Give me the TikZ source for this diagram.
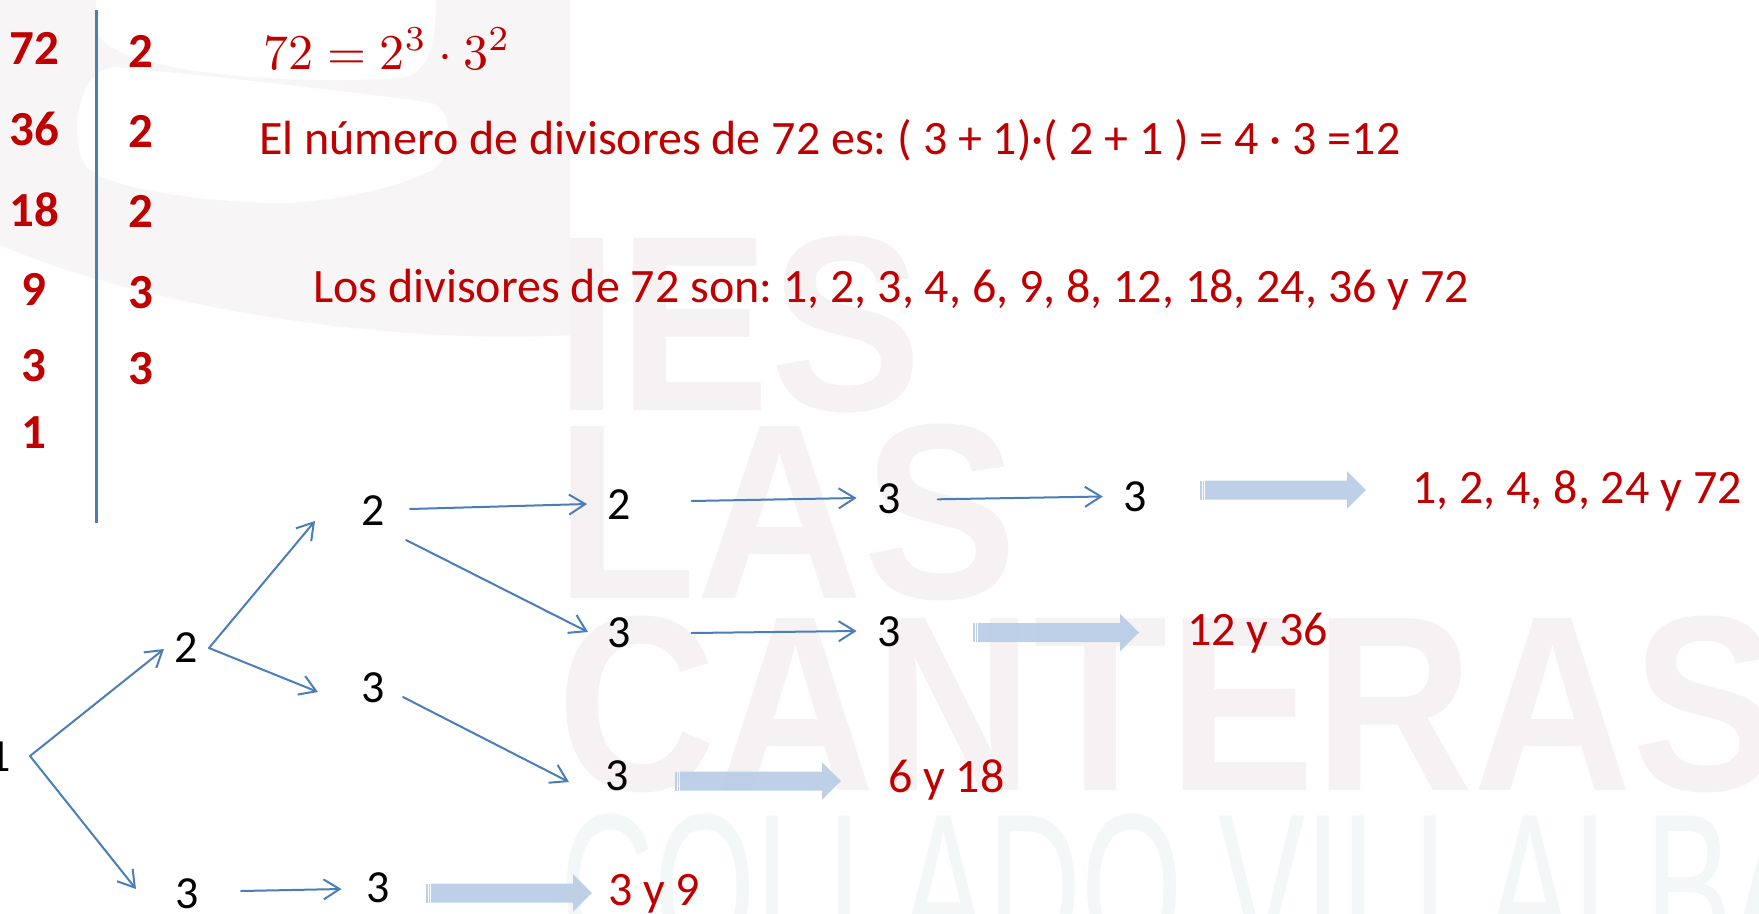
\documentclass[tikz,border=0pt]{standalone}
\usepackage{fontspec}
\setmainfont{Carlito}
\newfontfamily\wmbold{Liberation Sans}[BoldFont={* Bold}]
\newfontfamily\wmthin{Liberation Sans}
\usetikzlibrary{arrows.meta,calc}
\frenchspacing

\definecolor{numred}{HTML}{C00000}
\definecolor{linkblue}{HTML}{4A7EBB}
\definecolor{blockblue}{HTML}{B9CDE5}
\definecolor{wmpink}{HTML}{F6F2F3}
\definecolor{wmcyan}{HTML}{F3F7F7}
\definecolor{swoosh}{HTML}{F8F5F6}

\tikzset{
  lnum/.style={text=numred, font=\bfseries\fontsize{49}{49}\selectfont, inner sep=0pt, anchor=base},
  redtext/.style={text=numred, font=\fontsize{48}{56}\selectfont, inner sep=0pt, anchor=base west},
  dig/.style={text=black, font=\fontsize{46}{46}\selectfont, inner sep=0pt},
  link/.style={draw=linkblue, line width=2pt, line cap=round,
    -{Straight Barb[length=16pt,width=20pt,line width=2pt]}},
  wmark/.style={inner sep=0pt, anchor=base west},
  fatarrow/.pic={
    % two thin stripes, then the shaft and the head
    \fill[blockblue, fill opacity=0.92] (0,-9.5) rectangle (1.5,9.5);
    \fill[blockblue, fill opacity=0.92] (2.7,-9.5) rectangle (4.3,9.5);
    \fill[blockblue, fill opacity=0.92] (5,-9.5) -- (147,-9.5) -- (147,-18.8)
      -- (166,0) -- (147,18.8) -- (147,9.5) -- (5,9.5) -- cycle;
  }
}

\begin{document}
\begin{tikzpicture}[x=1pt,y=-1pt]
\useasboundingbox (0,0) rectangle (1759,913);
\clip (0,0) rectangle (1759,913);
\fill[white] (0,0) rectangle (1759,913);

% faint logo swoosh behind the factor table
\fill[swoosh] (0,0) -- (570,0) -- (570,335)
  .. controls (400,345) and (150,310) .. (0,245) -- cycle;
\fill[white] (96,0) -- (96,30) .. controls (110,75) and (300,85) .. (400,78)
  .. controls (430,75) and (436,40) .. (436,0) -- cycle;
\fill[white] (115,67) .. controls (250,80) and (380,95) .. (432,103)
  .. controls (455,110) and (455,165) .. (425,173)
  .. controls (380,195) and (300,205) .. (268,203)
  .. controls (180,200) and (100,185) .. (85,165)
  .. controls (70,140) and (75,70) .. (115,67) -- cycle;

% school watermark
\node[wmark, text=wmpink, font=\wmbold\bfseries\fontsize{250}{250}\selectfont] (wmies) at (555,410) {\scalebox{0.91}[1]{IES}};
\node[wmark, text=wmpink, font=\wmbold\bfseries\fontsize{250}{250}\selectfont] (wmlas) at (555,598) {\scalebox{0.925}[1]{LAS}};
\node[wmark, text=wmpink, font=\wmbold\bfseries\fontsize{250}{250}\selectfont] (wmcan) at (557,790) {\scalebox{0.88}[1]{CANTERAS}};
\node[wmark, text=wmcyan, font=\wmthin\fontsize{210}{210}\selectfont] (wmcol) at (560,960) {\scalebox{0.62}[1]{COLLADO VILLALBA}};

% prime factor table
\draw[draw=linkblue, line width=3pt] (96,10) -- (96,523);
\node[lnum] (n72) at (34,64) {72};
\node[lnum] (n36) at (34,145) {36};
\node[lnum] (n18) at (34,226) {18};
\node[lnum] (n9)  at (34,305) {9};
\node[lnum] (n3)  at (34,381) {3};
\node[lnum] (n1)  at (34,448) {1};
\node[lnum] (p1) at (141,67) {2};
\node[lnum] (p2) at (141,147) {2};
\node[lnum] (p3) at (141,227) {2};
\node[lnum] (p4) at (141,308) {3};
\node[lnum] (p5) at (141,384) {3};

% statements
\node[inner sep=0pt, anchor=base west, text=numred] (formula) at (263,69) {\scalebox{5.0}{$72=2^3\cdot 3^2$}};
\node[redtext] (count) at (259,154) {El número de divisores de 72 es: ( 3 + 1)·( 2 + 1 ) = 4 · 3 =12};
\node[redtext] (list) at (313,302) {Los divisores de 72 son: 1, 2, 3, 4, 6, 9, 8, 12, 18, 24, 36 y 72};

% tree of divisors
\node[dig] (r1)  at (-1,757) {1};
\node[dig] (a2)  at (186,648) {2};
\node[dig] (a3)  at (187,894) {3};
\node[dig] (b2)  at (373,511) {2};
\node[dig] (b3)  at (373,688) {3};
\node[dig] (b3b) at (378,888) {3};
\node[dig] (c2)  at (619,505) {2};
\node[dig] (c3)  at (619,633) {3};
\node[dig] (c3b) at (617,776) {3};
\node[dig] (d3)  at (889,499) {3};
\node[dig] (d3b) at (889,632) {3};
\node[dig] (e3)  at (1135,497) {3};

\draw[link] ($(r1)+(31,-1)$) -- ($(a2)+(-22,1)$);
\draw[link] ($(r1)+(31,-1)$) -- ($(a3)+(-51,-5)$);
\draw[link] ($(a2)+(23,0)$) -- ($(b2)+(-58,10)$);
\draw[link] ($(a2)+(23,0)$) -- ($(b3)+(-55,4)$);
\draw[link] ($(b2)+(37,-2)$) -- ($(c2)+(-32,-1)$);
\draw[link] ($(b2)+(33,29)$) -- ($(c3)+(-31,-1)$);
\draw[link] ($(b3)+(30,9)$) -- ($(c3b)+(-48,6)$);
\draw[link] ($(a3)+(54,-3)$) -- ($(b3b)+(-36.5,1)$);
\draw[link] ($(c2)+(72.5,-4)$) -- ($(d3)+(-32.4,-1)$);
\draw[link] ($(d3)+(48.7,0.3)$) -- ($(e3)+(-32.2,-0.5)$);
\draw[link] ($(c3)+(72.5,0)$) -- ($(d3b)+(-32.4,-1)$);

% results
\pic at (1200,490) {fatarrow};
\pic at (973,632.5) {fatarrow};
\pic at (675,781) {fatarrow};
\pic at (426,893) {fatarrow};
\node[redtext] (res1) at (1412,503) {1, 2, 4, 8, 24 y 72};
\node[redtext] (res2) at (1187,645) {12 y 36};
\node[redtext] (res3) at (888,792) {6 y 18};
\node[redtext] (res4) at (608,905) {3 y 9};
\end{tikzpicture}
\end{document}
